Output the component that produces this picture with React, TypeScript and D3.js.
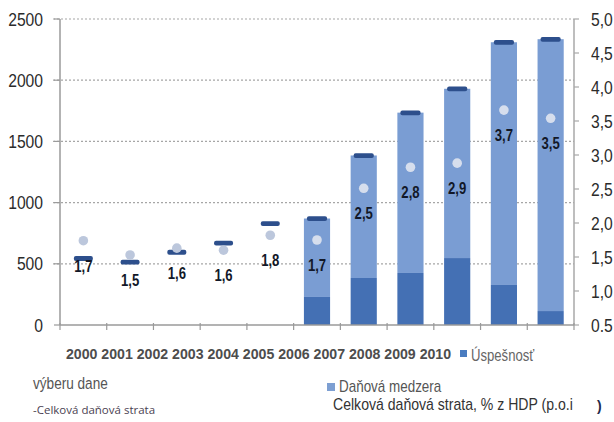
import React from "react";
import * as d3 from "d3";

const years = ["2000", "2001", "2002", "2003", "2004", "2005", "2006", "2007", "2008", "2009", "2010"];
const uspesnost = [0, 0, 0, 0, 0, 229, 384, 425, 547, 327, 114];
const medzera = [0, 0, 0, 0, 0, 641, 1001, 1310, 1383, 1983, 2221];
const strata = [545, 515, 596, 670, 830, 870, 1385, 1735, 1930, 2310, 2335];
const strataPct = [1.74, 1.53, 1.63, 1.6, 1.82, 1.75, 2.51, 2.82, 2.88, 3.66, 3.54];
const pctLabels = ["1,7", "1,5", "1,6", "1,6", "1,8", "1,7", "2,5", "2,8", "2,9", "3,7", "3,5"];
const leftTicks = [0, 500, 1000, 1500, 2000, 2500];
const leftTickLabels = ["0", "500", "1000", "1500", "2000", "2500"];
const rightTicks = [0.5, 1, 1.5, 2, 2.5, 3, 3.5, 4, 4.5, 5];
const rightTickLabels = ["0.5", "1,0", "1,5", "2,0", "2,5", "3,0", "3,5", "4,0", "4,5", "5,0"];
const legendLine1 = "2000 2001 2002 2003 2004 2005 2006 2007 2008 2009 2010";

const W = 614;
const H = 422;
const L = 60;
const R = 574;
const T = 19;
const B = 325;

const FONT = "'Liberation Sans', Arial, sans-serif";

const CText = ({ x, y, s = 0.85, anchor = "start", children, ...rest }: any) => (
  <text transform={`translate(${x},${y}) scale(${s},1)`} textAnchor={anchor} fontFamily={FONT} {...rest}>
    {children}
  </text>
);

export default function App() {
  const x = d3.scaleBand<string>().domain(years).range([L, R]).paddingInner(0.44).paddingOuter(0.22);
  const y = d3.scaleLinear().domain([0, 2500]).range([B, T]);
  const y2 = d3.scaleLinear().domain([0.5, 5]).range([B, T]);
  const bw = x.bandwidth();
  const step = x.step();
  const boundaries = d3.range(years.length + 1).map((i) => L + i * step);

  return (
    <svg width={W} height={H} style={{ position: "absolute", left: 0, top: 0, background: "#fff" }}>
      {/* gridlines */}
      {leftTicks.slice(1).map((t) => (
        <line key={t} x1={53} x2={R} y1={y(t)} y2={y(t)} stroke="#a6a6a6" strokeWidth={1.2} strokeDasharray="2,2" />
      ))}
      {/* bars */}
      {years.map((yr, i) => (
        <g key={yr}>
          {uspesnost[i] > 0 && (
            <rect x={x(yr)} y={y(uspesnost[i])} width={bw} height={y(0) - y(uspesnost[i])} fill="#4470b4" />
          )}
          {medzera[i] > 0 && (
            <rect
              x={x(yr)}
              y={y(uspesnost[i] + medzera[i])}
              width={bw}
              height={y(uspesnost[i]) - y(uspesnost[i] + medzera[i])}
              fill="#7a9dd3"
            />
          )}
        </g>
      ))}
      {/* total loss dash markers */}
      {years.map((yr, i) => {
        const cx = (x(yr) as number) + bw / 2;
        const w = uspesnost[i] > 0 ? bw - 6 : 19;
        return <rect key={yr} x={cx - w / 2} y={y(strata[i]) - 2.2} width={w} height={4.8} rx={2} fill="#2d4f8c" />;
      })}
      {/* pct circles */}
      {years.map((yr, i) => (
        <circle
          key={yr}
          cx={(x(yr) as number) + bw / 2}
          cy={y2(strataPct[i])}
          r={4.8}
          fill={uspesnost[i] > 0 ? "#d6deed" : "#bcc7dc"}
        />
      ))}
      {/* pct labels */}
      {years.map((yr, i) => (
        <CText
          key={yr}
          x={(x(yr) as number) + bw / 2}
          y={y2(strataPct[i]) + 31}
          s={0.82}
          anchor="middle"
          fontSize={16}
          fontWeight="bold"
          fill="#121828"
        >
          {pctLabels[i]}
        </CText>
      ))}
      {/* left axis */}
      <line x1={L} x2={L} y1={T} y2={B} stroke="#9a9a9a" strokeWidth={1.5} />
      {leftTicks.map((t, i) => (
        <g key={t}>
          <line x1={54} x2={L} y1={y(t)} y2={y(t)} stroke="#9a9a9a" strokeWidth={1.2} />
          <CText x={43} y={y(t) + 6.5} s={0.87} anchor="end" fontSize={18} fill="#2b2b2b">
            {leftTickLabels[i]}
          </CText>
        </g>
      ))}
      {/* right axis */}
      <line x1={R} x2={R} y1={T} y2={B} stroke="#a8a8a8" strokeWidth={1.5} />
      {rightTicks.map((t, i) => (
        <g key={t}>
          <line x1={R} x2={R + 5} y1={y2(t)} y2={y2(t)} stroke="#a8a8a8" strokeWidth={1.2} />
          <CText x={591} y={y2(t) + 6.5} s={0.87} fontSize={18} fill="#2b2b2b">
            {rightTickLabels[i]}
          </CText>
        </g>
      ))}
      {/* x axis */}
      <line x1={L} x2={R} y1={B} y2={B} stroke="#9a9a9a" strokeWidth={1.5} />
      {boundaries.map((bx, i) => (
        <line key={i} x1={bx} x2={bx} y1={B - 2} y2={B + 5} stroke="#9a9a9a" strokeWidth={1.2} />
      ))}
      {/* legend-ish text */}
      <CText x={66} y={359} s={1.01} fontSize={14} fontWeight="bold" fill="#4d4d4d">
        {legendLine1}
      </CText>
      <rect x={460} y={350} width={7} height={7} fill="#4a7cc0" />
      <CText x={471} y={361} s={0.82} fontSize={16} fill="#666">
        Úspešnosť
      </CText>
      <CText x={33} y={389} s={0.8} fontSize={17} fill="#555">
        výberu dane
      </CText>
      <text x={33} y={414} fontFamily="'Open Sans', 'Noto Sans', sans-serif" fontSize={11.5} fill="#4b3f52">
        -Celková daňová strata
      </text>
      <rect x={327} y={383} width={8} height={8} fill="#7d9fd2" />
      <CText x={339} y={392} s={0.84} fontSize={16} fill="#555">
        Daňová medzera
      </CText>
      <CText x={333} y={410} s={0.88} fontSize={16} fill="#333">
        Celková daňová strata, % z HDP (p.o.i
      </CText>
      <text x={597} y={411} fontFamily={FONT} fontSize={14} fontWeight="bold" fill="#1f2a4a">
        )
      </text>
    </svg>
  );
}
